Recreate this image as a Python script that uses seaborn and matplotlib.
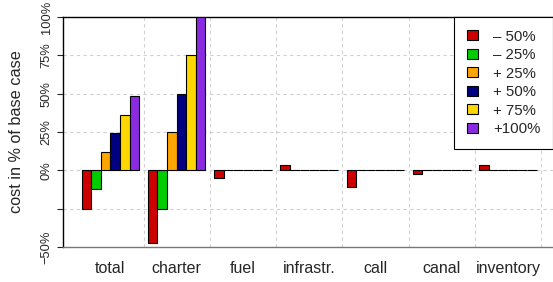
import pandas as pd
import numpy as np
import matplotlib.pyplot as plt
import seaborn as sns

# categories and scenarios
categories = ["total", "charter", "fuel", "infrastr.", "call", "canal", "inventory"]
scenarios = ["\u2013 50%", "\u2013 25%", "+ 25%", "+ 50%", "+ 75%", "+100%"]

# cost change in % of base case, one list per scenario
minus50 = [-25, -47.7, -5.2, 3.3, -10.7, -2.2, 3.5]
minus25 = [-12.4, -25, 0, 0, 0, 0, 0]
plus25 = [12.2, 25, 0, 0, 0, 0, 0]
plus50 = [24.6, 50, 0, 0, 0, 0, 0]
plus75 = [36.4, 75, 0, 0, 0, 0, 0]
plus100 = [48.4, 100, 0, 0, 0, 0, 0]

colors = ["#CD0000", "#00CD00", "#FFA500", "#000080", "#FFD700", "#8A2BE2"]

rows = []
for name, vals in zip(scenarios, [minus50, minus25, plus25, plus50, plus75, plus100]):
    for cat, v in zip(categories, vals):
        rows.append({"category": cat, "scenario": name, "cost": v})
df = pd.DataFrame(rows)

sns.set_style("white")
plt.rcParams["font.family"] = ["Liberation Sans", "DejaVu Sans"]

fig = plt.figure(figsize=(5.53, 2.82), dpi=100)
ax = fig.add_axes([63 / 553, 35 / 282, 1 - 63 / 553, 230 / 282])

sns.barplot(data=df, x="category", y="cost", hue="scenario", order=categories,
            hue_order=scenarios, palette=colors, width=0.87, gap=0,
            edgecolor="black", linewidth=0.8, saturation=1, ax=ax, zorder=3)

ax.set_xlim(-0.715, 6.68)
ax.set_ylim(-50, 100)

# dashed grid
for y in [-25, 0, 25, 50, 75]:
    ax.axhline(y, color="#d0d0d0", linestyle=(0, (3, 3)), linewidth=0.8, zorder=0)
for x in np.arange(0.5, 7, 1):
    ax.axvline(x, color="#d0d0d0", linestyle=(0, (3, 3)), linewidth=0.8, zorder=0)

ax.set_yticks([-50, -25, 0, 25, 50, 75, 100])
ax.set_yticklabels(["\u221250%", "", "0%", "25%", "50%", "75%", "100%"],
                   rotation=90, va="center", fontsize=9.3)
ax.tick_params(axis="y", direction="out", length=4.5, width=0.8, pad=3, left=True)
ax.tick_params(axis="x", length=0, pad=10, labelsize=11.5)
ax.set_xlabel("")
ax.set_ylabel("cost in % of base case", fontsize=11.7, labelpad=12)

for s in ["left", "top"]:
    ax.spines[s].set_color("black")
    ax.spines[s].set_linewidth(1)
ax.spines["right"].set_visible(False)
ax.spines["bottom"].set_color("#777777")
ax.spines["bottom"].set_linewidth(1)

leg = ax.legend(title=None, loc="upper right", fontsize=10.8, frameon=True,
                fancybox=False, edgecolor="black", framealpha=1,
                handlelength=0.75, handleheight=0.65, labelspacing=0.3,
                handletextpad=1.0, borderpad=0.85, borderaxespad=0)
leg.get_frame().set_linewidth(0.8)

plt.savefig("out.png", dpi=100)
